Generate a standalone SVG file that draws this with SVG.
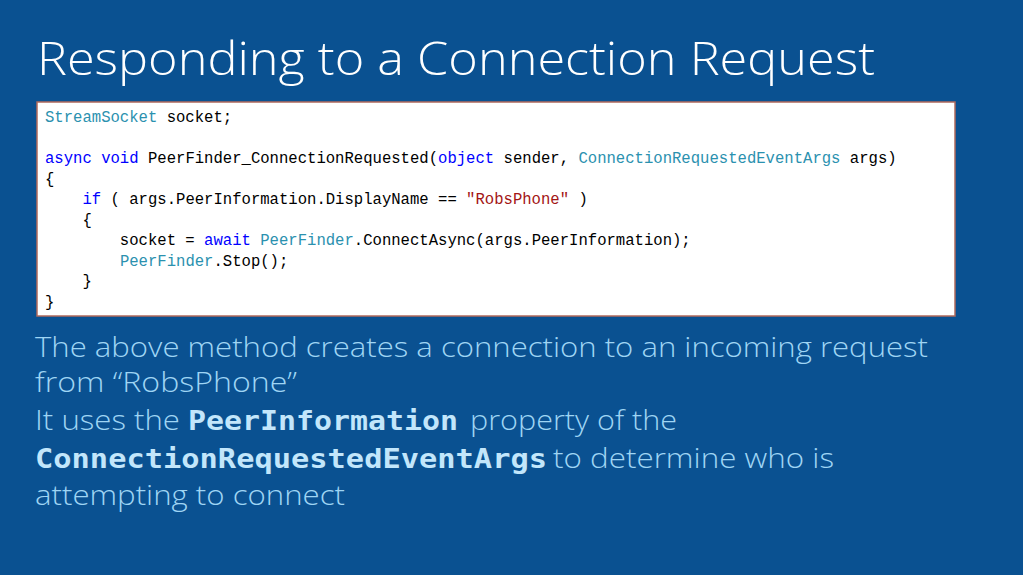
<svg xmlns="http://www.w3.org/2000/svg" width="1023" height="575" viewBox="0 0 1023 575">
<style>
.bg{fill:#0a5191}
.title{font-family:"Open Sans","Noto Sans",sans-serif;font-weight:300;font-size:46px;fill:#ffffff}
.body{font-family:"Open Sans","Noto Sans",sans-serif;font-weight:300;font-size:28px;fill:#9fd5f4}
.bcode{font-family:"DejaVu Sans Mono","Liberation Mono",monospace;font-weight:bold;font-size:27px;fill:#c2e6fb}
.code{font-family:"Liberation Mono","DejaVu Sans Mono",monospace;font-size:15.6px;fill:#000000}
.t{fill:#2b91af}
.k{fill:#0000ff}
.s{fill:#a31515}
</style>
<rect class="bg" x="0" y="0" width="1023" height="575"/>
<text class="title" x="37" y="75" textLength="838" lengthAdjust="spacingAndGlyphs">Responding to a Connection Request</text>
<g id="code-box">
<rect x="37" y="102" width="918" height="214" fill="#ffffff" stroke="#b06a5c" stroke-width="1.5"/>
<text class="code" xml:space="preserve">
<tspan x="45" y="122"><tspan class="t">StreamSocket</tspan> socket;</tspan>
<tspan x="45" y="163"><tspan class="k">async</tspan> <tspan class="k">void</tspan> PeerFinder_ConnectionRequested(<tspan class="k">object</tspan> sender, <tspan class="t">ConnectionRequestedEventArgs</tspan> args)</tspan>
<tspan x="45" y="183.5">{</tspan>
<tspan x="45" y="204">    <tspan class="k">if</tspan> ( args.PeerInformation.DisplayName == <tspan class="s">"RobsPhone"</tspan> )</tspan>
<tspan x="45" y="224.5">    {</tspan>
<tspan x="45" y="245">        socket = <tspan class="k">await</tspan> <tspan class="t">PeerFinder</tspan>.ConnectAsync(args.PeerInformation);</tspan>
<tspan x="45" y="265.5">        <tspan class="t">PeerFinder</tspan>.Stop();</tspan>
<tspan x="45" y="286">    }</tspan>
<tspan x="45" y="306.5">}</tspan>
</text>
</g>
<g id="bullets">
<text class="body" x="35" y="357" textLength="893" lengthAdjust="spacingAndGlyphs">The above method creates a connection to an incoming request</text>
<text class="body" x="35" y="392" textLength="262" lengthAdjust="spacingAndGlyphs">from “RobsPhone”</text>
<text class="body" x="35" y="430" textLength="145" lengthAdjust="spacingAndGlyphs">It uses the</text>
<text class="bcode" x="188" y="430" textLength="270" lengthAdjust="spacingAndGlyphs">PeerInformation</text>
<text class="body" x="470" y="430" textLength="207" lengthAdjust="spacingAndGlyphs">property of the</text>
<text class="bcode" x="35" y="468" textLength="512" lengthAdjust="spacingAndGlyphs">ConnectionRequestedEventArgs</text>
<text class="body" x="553" y="468" textLength="281" lengthAdjust="spacingAndGlyphs">to determine who is</text>
<text class="body" x="35" y="505" textLength="310" lengthAdjust="spacingAndGlyphs">attempting to connect</text>
</g>
</svg>
